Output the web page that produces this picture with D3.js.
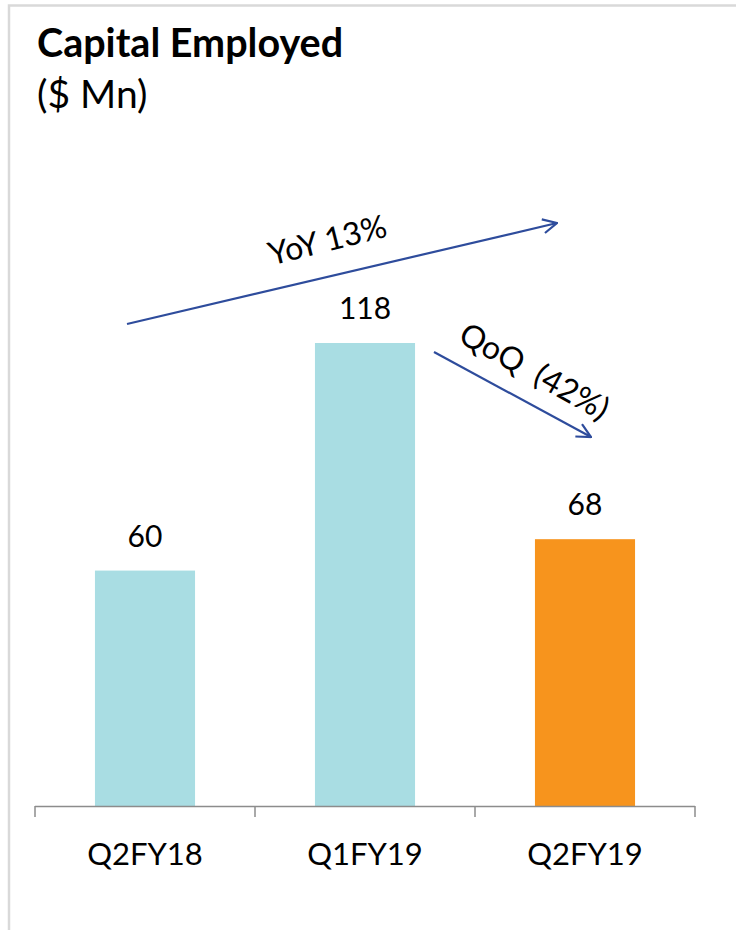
<!DOCTYPE html>
<html>
<head>
<meta charset="utf-8">
<script src="https://cdn.jsdelivr.net/npm/d3@7"></script>
<style>
  html, body { margin: 0; padding: 0; background: #fff; }
  svg { display: block; font-family: Lato, "Open Sans", sans-serif; }
</style>
</head>
<body>
<svg id="chart" width="736" height="930"></svg>
<script>
// Capital employed per quarter, $ Mn
const categories = ["Q2FY18", "Q1FY19", "Q2FY19"];
const values = [60, 118, 68];
const highlighted = "Q2FY19";
const yoyLabel = "YoY 13%";
const qoqLabel = "QoQ  (42%)";

const svg = d3.select("#chart");
const W = 736, H = 930;
const baseY = 806;

// panel frame (top and left edges visible)
svg.append("path")
  .attr("d", `M9,${H} L9,5.5 L${W},5.5`)
  .attr("fill", "none").attr("stroke", "#d9d9d9").attr("stroke-width", 2.5);

// title
svg.append("text").attr("x", 37).attr("y", 57)
  .attr("font-size", 39.5).attr("font-weight", 700).attr("fill", "#000")
  .text("Capital Employed");
svg.append("text").attr("x", 37).attr("y", 108)
  .attr("font-size", 39).attr("fill", "#000")
  .text("($ Mn)");

const x = d3.scaleBand().domain(categories).range([35, 695])
  .paddingInner(0.545).paddingOuter(0.2725);
const y = d3.scaleLinear().domain([0, 118]).range([baseY, 343]);

// bars
svg.append("g").selectAll("rect").data(categories).join("rect")
  .attr("x", d => x(d))
  .attr("width", x.bandwidth())
  .attr("y", (d, i) => y(values[i]))
  .attr("height", (d, i) => baseY - y(values[i]))
  .attr("fill", d => d === highlighted ? "#F7941D" : "#A9DDE3");

// value labels
svg.append("g").selectAll("text").data(categories).join("text")
  .attr("x", d => x(d) + x.bandwidth() / 2)
  .attr("y", (d, i) => y(values[i]) - 24)
  .attr("text-anchor", "middle")
  .attr("font-size", 30).attr("fill", "#000")
  .text((d, i) => values[i]);

// category axis with ticks at band boundaries
const axisG = svg.append("g");
axisG.append("line").attr("x1", 35).attr("x2", 695)
  .attr("y1", baseY + 0.5).attr("y2", baseY + 0.5)
  .attr("stroke", "#8c8c8c").attr("stroke-width", 1.5);
const bounds = categories.map(c => x(c) - x.step() * x.paddingInner() / 2).concat([695]);
axisG.selectAll("line.tick").data(bounds).join("line").attr("class", "tick")
  .attr("x1", d => d).attr("x2", d => d)
  .attr("y1", baseY).attr("y2", baseY + 11)
  .attr("stroke", "#8c8c8c").attr("stroke-width", 1.5);
axisG.selectAll("text").data(categories).join("text")
  .attr("x", d => x(d) + x.bandwidth() / 2)
  .attr("y", 865)
  .attr("text-anchor", "middle")
  .attr("font-size", 31).attr("fill", "#000")
  .text(d => d);

// trend arrows
const arrowColor = "#2E4C9C";
svg.append("defs").append("marker")
  .attr("id", "chev").attr("viewBox", "0 0 16 16")
  .attr("refX", 15).attr("refY", 8)
  .attr("markerWidth", 16).attr("markerHeight", 16)
  .attr("markerUnits", "userSpaceOnUse")
  .attr("orient", "auto")
  .append("path").attr("d", "M1,1 L15,8 L1,15")
  .attr("fill", "none").attr("stroke", arrowColor).attr("stroke-width", 2.2);

function arrow(x1, y1, x2, y2) {
  svg.append("line").attr("x1", x1).attr("y1", y1).attr("x2", x2).attr("y2", y2)
    .attr("stroke", arrowColor).attr("stroke-width", 2.2)
    .attr("marker-end", "url(#chev)");
}
arrow(127, 324, 557, 223);
arrow(434, 352, 591, 437);

svg.append("text")
  .attr("transform", "translate(330,251) rotate(-14)")
  .attr("text-anchor", "middle")
  .attr("font-size", 32).attr("fill", "#000")
  .text(yoyLabel);
svg.append("text")
  .attr("transform", "translate(529,381) rotate(29)")
  .attr("text-anchor", "middle")
  .attr("font-size", 32).attr("fill", "#000")
  .attr("xml:space", "preserve").style("white-space", "pre")
  .text(qoqLabel);
</script>
</body>
</html>
